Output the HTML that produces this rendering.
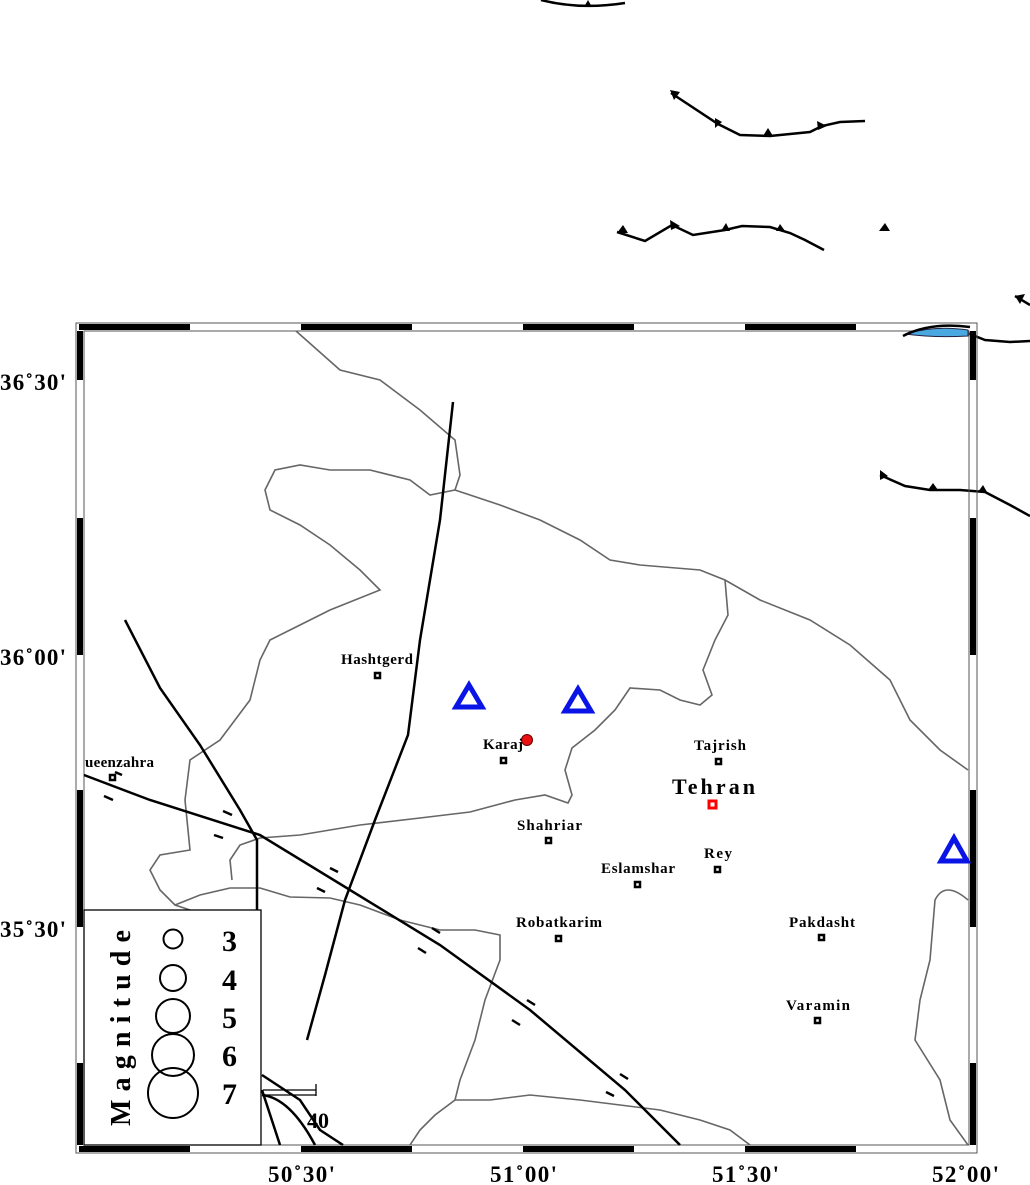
<!DOCTYPE html>
<html><head><meta charset="utf-8"><style>
html,body{margin:0;padding:0;background:#fff;}
svg{display:block;}
text{font-family:"Liberation Serif",serif;font-weight:bold;}
</style></head><body>
<svg width="1030" height="1185" viewBox="0 0 1030 1185" xmlns="http://www.w3.org/2000/svg">
<!-- outside faults -->
<g fill="none" stroke="#000" stroke-width="2.5">
<path d="M541 0 Q580 10 625 3"/>
<path d="M671 93 L718 124 L740 135 L770 136 L810 132 L822 126 L840 122 L865 121"/>
<path d="M617 232 L645 241 L672 225 L693 235 L725 230 L742 226 L770 227 L790 233 L805 240 L824 250"/>
<path d="M880 475 L905 486 L930 490 L960 490 L985 492 L1010 505 L1030 516"/>
<path d="M960 330 L985 340 L1010 342 L1030 341"/>
<path d="M1015 296 L1030 305"/>
</g>
<g fill="#000">
<polygon points="588,0 592,7 584,7"/>
<polygon points="670,90 680,92 674,100"/>
<polygon points="715,118 722,122 715,128"/>
<polygon points="768,128 773,136 763,136"/>
<polygon points="817,121 827,126 818,130"/>
<polygon points="623,225 628,233 617,233"/>
<polygon points="670,220 680,226 671,230"/>
<polygon points="726,223 730,231 721,231"/>
<polygon points="780,224 785,231 776,231"/>
<polygon points="885,223 890,231 879,231"/>
<polygon points="880,470 888,476 880,480"/>
<polygon points="933,483 938,490 928,490"/>
<polygon points="983,485 987,492 978,492"/>
<polygon points="1015,296 1025,294 1020,304"/>
</g>
<!-- frame -->
<rect x="76" y="323" width="901" height="830" fill="none" stroke="#555" stroke-width="1"/>
<rect x="84" y="331" width="885" height="814" fill="none" stroke="#555" stroke-width="1"/>
<g fill="#000">
<rect x="79" y="324" width="111" height="6"/><rect x="301" y="324" width="111" height="6"/><rect x="523" y="324" width="111" height="6"/><rect x="745" y="324" width="111" height="6"/>
<rect x="79" y="1146" width="111" height="6"/><rect x="301" y="1146" width="111" height="6"/><rect x="523" y="1146" width="111" height="6"/><rect x="745" y="1146" width="111" height="6"/>
<rect x="77" y="331" width="6" height="49"/><rect x="77" y="518" width="6" height="137"/><rect x="77" y="790" width="6" height="137"/><rect x="77" y="1063" width="6" height="82"/>
<rect x="970" y="331" width="6" height="49"/><rect x="970" y="518" width="6" height="137"/><rect x="970" y="790" width="6" height="137"/><rect x="970" y="1063" width="6" height="82"/>
</g>
<!-- lake -->
<path d="M905 334 Q935 325 968 330 L968 336 Q935 338 905 334Z" fill="#4aa8e0" stroke="#224" stroke-width="1"/>
<path d="M903 336 Q930 322 970 327" fill="none" stroke="#000" stroke-width="2.5"/>
<!-- province boundaries -->
<g fill="none" stroke="#666" stroke-width="1.6">
<path d="M296 331 L340 370 L380 380 L420 410 L455 440 L460 475 L455 490 L500 505 L540 520 L580 540 L610 560 L640 565 L700 570 L725 580 L760 600 L810 620 L850 645 L890 680 L910 720 L940 750 L968 770"/>
<path d="M455 490 L430 495 L410 480 L370 470 L330 470 L300 465 L275 470 L265 490 L270 510 L300 525 L330 545 L360 570 L380 590 L330 610 L300 625 L270 640 L260 660 L250 700 L220 740 L190 760 L185 800 L190 850 L160 855 L150 870 L160 890 L175 905 L190 910"/>
<path d="M725 580 L728 615 L715 640 L703 670 L712 695 L700 705 L680 700 L660 690 L630 688 L615 710 L595 730 L572 748 L565 770 L572 795 L568 803 L545 795 L515 800 L470 812 L420 818 L360 825 L300 835 L260 838 L240 845 L230 860 L232 880"/>
<path d="M175 905 L200 895 L230 888 L260 888 L290 897 L330 898 L360 905 L400 920 L440 930 L475 930 L500 935 L500 960 L485 1000 L475 1040 L460 1080 L455 1100 L435 1115 L420 1130 L410 1145"/>
<path d="M455 1100 L490 1100 L530 1095 L580 1100 L620 1105 L660 1110 L700 1120 L730 1130 L750 1145"/>
<path d="M968 900 Q945 880 935 900 L930 960 L920 1000 L915 1040 L940 1080 L950 1120 L968 1145"/>
</g>
<!-- faults inside -->
<g fill="none" stroke="#000" stroke-width="2.5">
<path d="M453 402 L440 520 L420 640 L408 735 L375 820 L345 900 L325 975 L307 1040"/>
<path d="M125 620 L160 688 L200 745 L240 810 L257 840 L257 910"/>
<path d="M84 775 L150 800 L260 835 L350 890 L440 945 L530 1010 L625 1090 L680 1145"/>
<path d="M262 1075 L300 1100 L320 1130 L343 1145"/>
<path d="M262 1090 L280 1145"/>
<path d="M262 1095 Q290 1098 315 1145"/>
</g>
<g stroke="#000" stroke-width="2.5">
<line x1="104" y1="796" x2="113" y2="800"/><line x1="115" y1="772" x2="122" y2="775"/>
<line x1="223" y1="811" x2="232" y2="815"/><line x1="214" y1="835" x2="223" y2="838"/>
<line x1="330" y1="868" x2="338" y2="872"/><line x1="317" y1="888" x2="325" y2="892"/>
<line x1="432" y1="928" x2="440" y2="933"/><line x1="418" y1="948" x2="426" y2="953"/>
<line x1="527" y1="1000" x2="535" y2="1005"/><line x1="512" y1="1020" x2="520" y2="1025"/>
<line x1="620" y1="1074" x2="628" y2="1079"/><line x1="606" y1="1092" x2="614" y2="1096"/>
</g>
<!-- triangles -->
<g fill="none" stroke="#0a14e6" stroke-width="5">
<polygon points="469,685 482,707 456,707"/>
<polygon points="578,689 591,711 565,711"/>
<polygon points="954,838 967,861 941,861"/>
</g>
<circle cx="527" cy="740" r="5.5" fill="#e81010" stroke="#600" stroke-width="1"/>
<!-- towns -->
<g fill="#fff" stroke="#000" stroke-width="2.5">
<rect x="375" y="673" width="5" height="5"/><rect x="501" y="758" width="5" height="5"/><rect x="716" y="759" width="5" height="5"/>
<rect x="546" y="838" width="5" height="5"/><rect x="635" y="882" width="5" height="5"/><rect x="715" y="867" width="5" height="5"/>
<rect x="556" y="936" width="5" height="5"/><rect x="819" y="935" width="5" height="5"/><rect x="815" y="1018" width="5" height="5"/>
<rect x="110" y="775" width="5" height="5"/>
</g>
<rect x="709" y="801" width="7" height="7" fill="#fff" stroke="#f00" stroke-width="3"/>
<g font-size="15">
<text x="341" y="664" textLength="72">Hashtgerd</text>
<text x="483" y="749" textLength="40">Karaj</text>
<text x="694" y="750" textLength="52">Tajrish</text>
<text x="517" y="830" textLength="65">Shahriar</text>
<text x="601" y="873" textLength="74">Eslamshar</text>
<text x="704" y="858" textLength="28">Rey</text>
<text x="516" y="927" textLength="86">Robatkarim</text>
<text x="789" y="927" textLength="66">Pakdasht</text>
<text x="786" y="1010" textLength="64">Varamin</text>
<text x="85" y="767" textLength="69">ueenzahra</text>
</g>
<text x="672" y="794" font-size="22" textLength="83">Tehran</text>
<!-- scale -->
<g fill="none" stroke="#000" stroke-width="1.3"><path d="M263 1090 L316 1090 M316 1084 L316 1096 M263 1095 L316 1095"/></g>
<text x="318" y="1128" font-size="22" text-anchor="middle">40</text>
<!-- legend -->
<rect x="84" y="910" width="177" height="235" fill="#fff" stroke="#000" stroke-width="1.3"/>
<g fill="none" stroke="#000" stroke-width="2">
<circle cx="173" cy="939" r="9.5"/><circle cx="173" cy="978" r="13"/><circle cx="173" cy="1016" r="17"/><circle cx="173" cy="1055" r="21"/><circle cx="173" cy="1093" r="25"/>
</g>
<g font-size="30"><text x="222" y="951">3</text><text x="222" y="990">4</text><text x="222" y="1028">5</text><text x="222" y="1066">6</text><text x="222" y="1104">7</text></g>
<text transform="translate(130,1126) rotate(-90)" font-size="28" textLength="196">Magnitude</text>
<!-- axis labels -->
<g font-size="23">
<text x="0" y="390" textLength="66">36˚30'</text><text x="0" y="665" textLength="66">36˚00'</text><text x="0" y="937" textLength="66">35˚30'</text>
<text x="268" y="1182" textLength="67">50˚30'</text><text x="490" y="1182" textLength="67">51˚00'</text>
<text x="712" y="1182" textLength="67">51˚30'</text><text x="932" y="1182" textLength="67">52˚00'</text>
</g>
</svg>
</body></html>
